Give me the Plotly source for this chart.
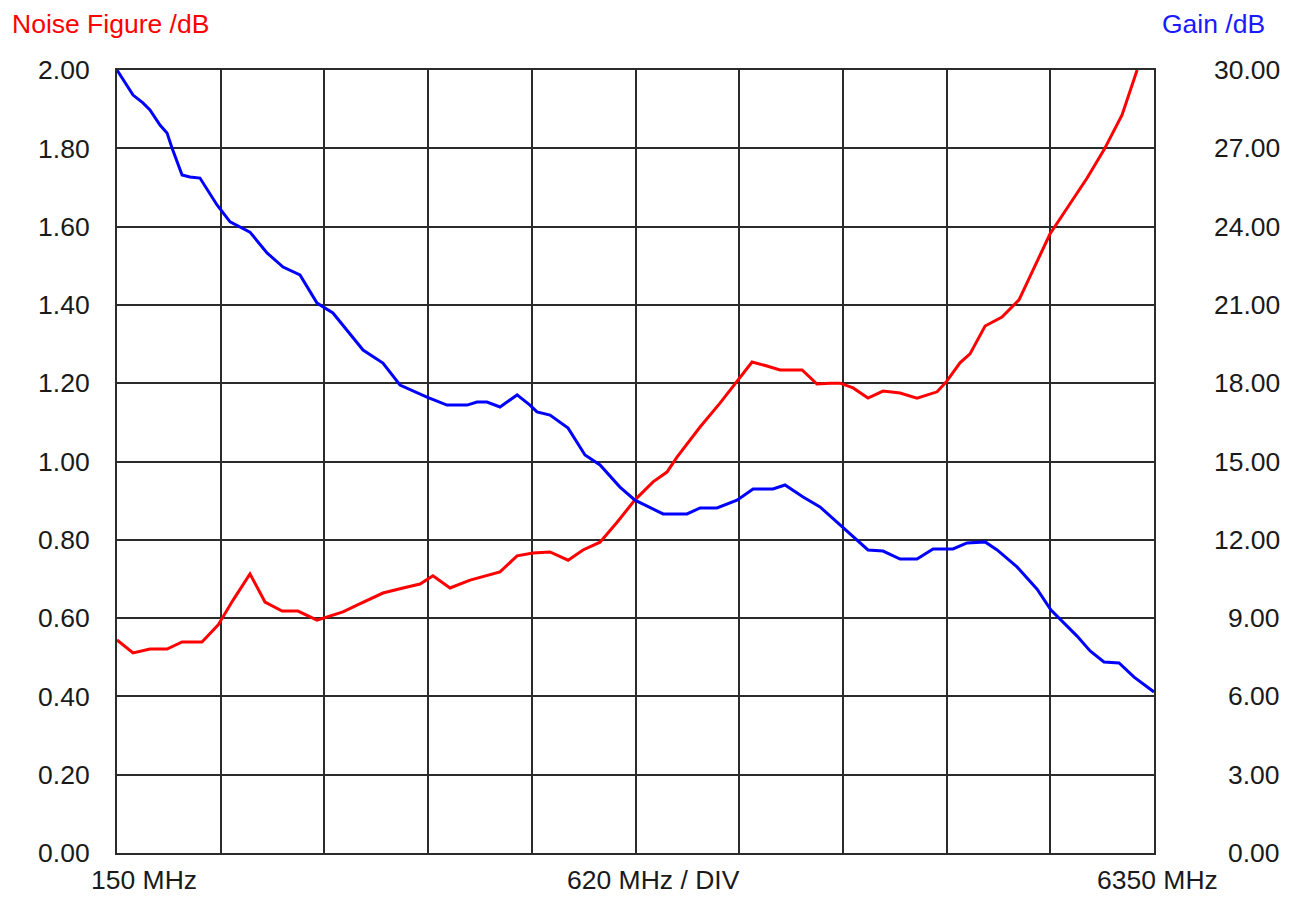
import plotly.graph_objects as go

# Gain (right axis, dB) vs frequency (MHz)
gain_freq = [150, 246, 305, 347, 407, 449, 479, 539, 586, 646, 748, 826, 945, 1047, 1143, 1244,
             1346, 1441, 1621, 1740, 1842, 2003, 2123, 2243, 2302, 2362, 2440, 2542, 2619, 2661,
             2739, 2847, 2948, 3038, 3157, 3247, 3415, 3558, 3636, 3737, 3857, 3953, 4072, 4144,
             4252, 4353, 4473, 4551, 4640, 4730, 4832, 4933, 5029, 5148, 5232, 5340, 5412, 5531,
             5651, 5734, 5890, 5968, 6051, 6141, 6231, 6350]
gain_db = [30.0, 29.04, 28.74, 28.47, 27.89, 27.59, 27.01, 25.98, 25.90, 25.86, 24.83, 24.18,
           23.79, 22.99, 22.45, 22.15, 21.07, 20.69, 19.27, 18.77, 17.93, 17.47, 17.16, 17.16,
           17.28, 17.28, 17.09, 17.55, 17.16, 16.90, 16.78, 16.28, 15.25, 14.87, 14.02, 13.52,
           12.99, 12.99, 13.22, 13.22, 13.52, 13.95, 13.95, 14.10, 13.64, 13.26, 12.57, 12.11,
           11.61, 11.57, 11.26, 11.26, 11.65, 11.65, 11.88, 11.92, 11.61, 10.96, 10.11, 9.31,
           8.31, 7.74, 7.32, 7.28, 6.74, 6.17]

# Noise figure (left axis, dB) vs frequency (MHz)
nf_freq = [150, 246, 347, 449, 539, 658, 754, 844, 945, 1035, 1137, 1232, 1346, 1501, 1585,
           1740, 1860, 1962, 2039, 2141, 2261, 2440, 2542, 2637, 2739, 2847, 2936, 3038, 3140,
           3247, 3355, 3438, 3498, 3636, 3755, 3863, 3947, 4036, 4114, 4246, 4335, 4413, 4473,
           4551, 4640, 4730, 4832, 4933, 5053, 5107, 5190, 5250, 5340, 5441, 5543, 5728, 5830,
           5950, 6051, 6159, 6249]
nf_db = [0.544, 0.511, 0.521, 0.521, 0.539, 0.539, 0.582, 0.646, 0.713, 0.641, 0.618, 0.618,
         0.595, 0.616, 0.633, 0.664, 0.677, 0.687, 0.708, 0.677, 0.697, 0.718, 0.759, 0.766,
         0.769, 0.748, 0.774, 0.794, 0.845, 0.902, 0.948, 0.973, 1.011, 1.088, 1.149, 1.208,
         1.254, 1.244, 1.234, 1.234, 1.198, 1.200, 1.200, 1.188, 1.162, 1.180, 1.175, 1.162,
         1.178, 1.203, 1.252, 1.275, 1.346, 1.369, 1.413, 1.581, 1.648, 1.724, 1.796, 1.885, 2.0]

x_start, x_step, x_end = 150, 620, 6350
x_labels = ["150 MHz", "620 MHz / DIV", "6350 MHz"]
left_ticks = [i * 0.2 for i in range(11)]
right_ticks = [i * 3 for i in range(11)]

FONT = "Liberation Sans, Arial, sans-serif"
GRID = "#2b2b2b"
FS = 26.5

fig = go.Figure()
fig.add_trace(go.Scatter(x=nf_freq, y=nf_db, mode="lines", line=dict(color="#ff0000", width=3),
                         yaxis="y", showlegend=False))
fig.add_trace(go.Scatter(x=gain_freq, y=gain_db, mode="lines", line=dict(color="#0000ff", width=3),
                         yaxis="y2", showlegend=False))

# page body has an 8px offset; compensate so the plot area sits at x 117-1154, y 70-853
OFF = 8
L, R, T, B = 117 - OFF, 146, 70 - OFF, 44
W, H = 1300 - OFF, 897 - OFF
pw = W - L - R

fig.update_layout(
    width=W, height=H,
    margin=dict(l=L, r=R, t=T, b=B),
    paper_bgcolor="white", plot_bgcolor="white",
    font=dict(family=FONT, size=FS, color="#1a1a1a"),
    xaxis=dict(range=[x_start, x_end], tickvals=[x_start + i * x_step for i in range(11)],
               showticklabels=False, showgrid=True, gridcolor=GRID, gridwidth=2,
               showline=True, linecolor=GRID, linewidth=2, mirror=True, zeroline=False,
               ticks=""),
    yaxis=dict(range=[0, 2], tickvals=left_ticks, tickformat=".2f",
               showgrid=True, gridcolor=GRID, gridwidth=2,
               showline=True, linecolor=GRID, linewidth=2, mirror=True, zeroline=False,
               ticks="", ticklabelstandoff=20),
    yaxis2=dict(range=[0, 30], overlaying="y", side="right", showgrid=False,
                showticklabels=False, zeroline=False, tickvals=right_ticks),
)

# right-axis tick labels, right aligned
for v in right_ticks:
    fig.add_annotation(x=(1282 - 117) / pw, xref="paper", y=v, yref="y2", text=f"{v:.2f}",
                       showarrow=False, xanchor="right", yanchor="middle",
                       font=dict(size=FS, color="#1a1a1a", family=FONT))

# x labels
for px, txt in zip([144, 653, 1157], x_labels):
    fig.add_annotation(x=(px - 117) / pw, xref="paper", y=0, yref="paper", yshift=-27,
                       text=txt, showarrow=False, xanchor="center", yanchor="middle",
                       borderpad=0, font=dict(size=FS, color="#1a1a1a", family=FONT))

# axis titles
fig.add_annotation(x=(10 - 117) / pw, xref="paper", y=1, yref="paper", yshift=46,
                   text="Noise Figure /dB", showarrow=False, xanchor="left", yanchor="middle",
                   font=dict(size=FS, color="#ff0000", family=FONT))
fig.add_annotation(x=(1267 - 117) / pw, xref="paper", y=1, yref="paper", yshift=46,
                   text="Gain /dB", showarrow=False, xanchor="right", yanchor="middle",
                   font=dict(size=FS, color="#1a1aff", family=FONT))

fig.write_html("out.html")
